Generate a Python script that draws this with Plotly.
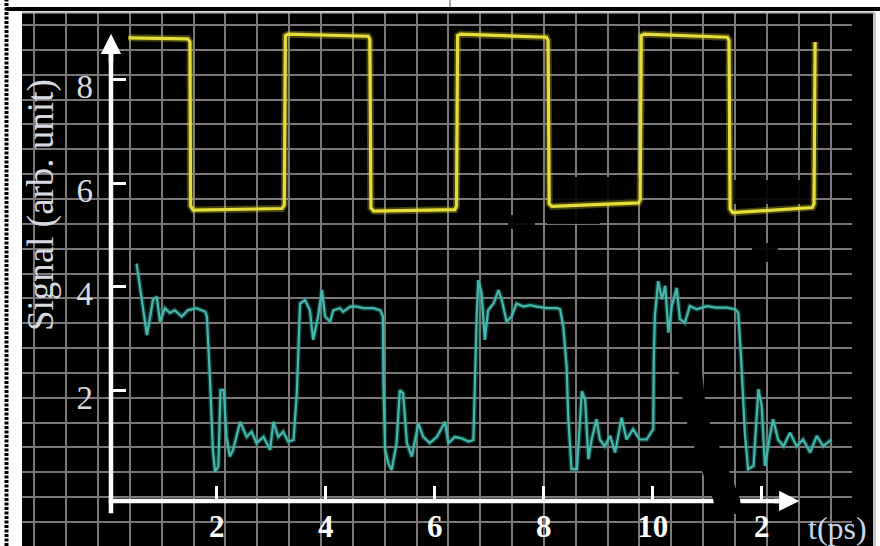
import plotly.graph_objects as go

# ---------------- data ----------------
yellow_t = [0.38, 1.47, 1.51, 1.52, 1.57, 3.20, 3.24, 3.26, 3.31, 4.78, 4.81, 4.83, 4.88,
            6.37, 6.40, 6.42, 6.47, 8.05, 8.08, 8.10, 8.15, 9.74, 9.77, 9.79, 9.84,
            11.37, 11.40, 11.42, 11.47, 12.93, 12.96, 12.98]
yellow_v = [8.80, 8.78, 8.72, 5.56, 5.48, 5.51, 5.58, 8.84, 8.87, 8.83, 8.77, 5.52, 5.46,
            5.49, 5.56, 8.84, 8.87, 8.81, 8.75, 5.60, 5.55, 5.62, 5.68, 8.84, 8.87,
            8.81, 8.75, 5.50, 5.43, 5.53, 5.60, 8.72]

cyan_t = [0.53, 0.56, 0.62, 0.72, 0.78, 0.83, 0.90, 0.96, 1.05, 1.14, 1.23, 1.36, 1.47, 1.63,
          1.79, 1.82, 1.88, 1.93, 1.97, 2.03, 2.07, 2.13, 2.18, 2.24, 2.30, 2.43, 2.55, 2.64,
          2.73, 2.86, 2.98, 3.04, 3.13, 3.22, 3.31, 3.41, 3.47, 3.50, 3.53, 3.62, 3.71, 3.77,
          3.86, 3.93, 3.99, 4.08, 4.14, 4.26, 4.32, 4.45, 4.57, 4.69, 4.87, 5.00, 5.05, 5.06,
          5.09, 5.15, 5.21, 5.30, 5.36, 5.42, 5.49, 5.58, 5.70, 5.79, 5.91, 6.04, 6.19, 6.25,
          6.37, 6.50, 6.62, 6.71, 6.74, 6.77, 6.80, 6.86, 6.92, 6.98, 7.08, 7.17, 7.23, 7.32,
          7.41, 7.50, 7.63, 7.75, 7.87, 8.06, 8.24, 8.30, 8.36, 8.42, 8.45, 8.51, 8.61, 8.70,
          8.76, 8.82, 8.88, 8.97, 9.03, 9.12, 9.22, 9.31, 9.43, 9.52, 9.64, 9.76, 9.89, 10.01,
          10.02, 10.04, 10.10, 10.17, 10.23, 10.29, 10.35, 10.44, 10.50, 10.59, 10.68, 10.81,
          10.99, 11.17, 11.36, 11.51, 11.57, 11.63, 11.69, 11.75, 11.85, 11.94, 12.00, 12.06,
          12.15, 12.21, 12.30, 12.40, 12.52, 12.64, 12.76, 12.89, 13.01, 13.13, 13.28]
cyan_v = [4.45, 4.23, 3.88, 3.07, 3.43, 3.75, 3.81, 3.33, 3.59, 3.50, 3.55, 3.43, 3.55, 3.59,
          3.52, 3.43, 2.15, 0.86, 0.44, 0.54, 2.01, 2.01, 1.11, 0.73, 0.86, 1.40, 1.11, 1.21,
          0.99, 1.11, 0.86, 1.40, 1.11, 1.21, 1.02, 1.05, 1.95, 2.78, 3.68, 3.75, 3.55, 2.98,
          3.43, 3.94, 3.43, 3.33, 3.55, 3.59, 3.52, 3.62, 3.62, 3.59, 3.59, 3.55, 3.43, 2.14,
          0.86, 0.60, 0.47, 0.99, 2.01, 1.95, 0.99, 0.73, 1.37, 1.11, 0.99, 1.11, 1.40, 0.99,
          1.11, 1.08, 1.02, 1.05, 2.34, 3.43, 4.13, 3.88, 2.98, 3.55, 3.68, 3.94, 3.75, 3.33,
          3.43, 3.68, 3.62, 3.65, 3.62, 3.59, 3.59, 3.57, 3.23, 2.48, 1.51, 0.49, 0.49, 1.99,
          1.83, 0.68, 1.06, 1.45, 1.06, 0.93, 1.13, 0.81, 1.48, 1.06, 1.26, 1.06, 1.06, 1.26,
          2.60, 3.44, 4.11, 3.76, 4.02, 3.12, 3.63, 3.98, 3.38, 3.31, 3.63, 3.57,
          3.63, 3.60, 3.60, 3.57, 3.50, 2.48, 1.19, 0.49, 0.55, 2.03, 1.71, 0.55,
          1.13, 1.45, 1.06, 0.93, 1.19, 0.93, 1.06, 0.81, 1.13, 0.93, 1.06]

x_tick_vals = [2, 4, 6, 8, 10, 12]
x_tick_text = ["2", "4", "6", "8", "10", "2"]
y_tick_vals = [2, 4, 6, 8]
y_tick_text = ["2", "4", "6", "8"]

x_range = [-1.5725, 13.657]
y_range = [-0.9923, 9.2967]
grid_x0, grid_dx = 0.991, 0.5844
grid_y0, grid_dy = -0.051, 0.4788

axis_x0 = 0.06       # data x of the vertical axis line
axis_y0 = -0.125     # data y of the horizontal axis line

# ---------------- layout helpers (pixel -> paper / data, decoration only) ----------------
W, H = 880, 546
ML, MR, MT, MB = 22, 28, 12, 0
PW, PH = W - ML - MR, H - MT - MB


def px(x):
    return (x - ML) / PW


def py(y):
    return (H - MB - y) / PH


def dx(x):
    return x_range[0] + (x - ML) / PW * (x_range[1] - x_range[0])


def dy(y):
    return y_range[1] - (y - MT) / PH * (y_range[1] - y_range[0])


fig = go.Figure()

# glow + core for each trace
fig.add_trace(go.Scatter(x=yellow_t, y=yellow_v, mode="lines",
                         line=dict(color="rgba(200,190,40,0.35)", width=7), hoverinfo="skip"))
fig.add_trace(go.Scatter(x=yellow_t, y=yellow_v, mode="lines",
                         line=dict(color="#e6dd3a", width=3.2)))
fig.add_trace(go.Scatter(x=cyan_t, y=cyan_v, mode="lines",
                         line=dict(color="rgba(30,130,120,0.45)", width=5), hoverinfo="skip"))
fig.add_trace(go.Scatter(x=cyan_t, y=cyan_v, mode="lines",
                         line=dict(color="#46b8ad", width=2.2)))
# invisible trace so that the labelled overlay axes are drawn
fig.add_trace(go.Scatter(x=[x_range[0]], y=[y_range[0]], xaxis="x2", yaxis="y2",
                         mode="markers", marker=dict(opacity=0, size=1), hoverinfo="skip"))

grid_color = "#7c787a"
fig.update_layout(
    width=W, height=H,
    margin=dict(l=ML, r=MR, t=MT, b=MB),
    paper_bgcolor="white",
    plot_bgcolor="black",
    showlegend=False,
    xaxis=dict(range=x_range, tickmode="linear", tick0=grid_x0, dtick=grid_dx,
               showgrid=True, gridcolor=grid_color, gridwidth=2,
               showticklabels=False, ticks="", zeroline=False, showline=False),
    yaxis=dict(range=y_range, tickmode="linear", tick0=grid_y0, dtick=grid_dy,
               showgrid=True, gridcolor=grid_color, gridwidth=2,
               showticklabels=False, ticks="", zeroline=False, showline=False),
    xaxis2=dict(overlaying="x", anchor="free", position=py(501), range=x_range,
                tickmode="array", tickvals=x_tick_vals, ticktext=x_tick_text,
                ticks="inside", ticklen=15, tickwidth=3, tickcolor="white",
                showgrid=False, zeroline=False, showline=False,
                ticklabelstandoff=4,
                tickfont=dict(family="Liberation Serif", size=31, color="white", weight="bold")),
    yaxis2=dict(overlaying="y", anchor="free", position=px(111), side="left", range=y_range,
                tickmode="array", tickvals=y_tick_vals, ticktext=y_tick_text,
                ticks="inside", ticklen=14, tickwidth=3, tickcolor="white",
                showgrid=False, zeroline=False, showline=False,
                ticklabelstandoff=18, ticklabelshift=7,
                tickfont=dict(family="Liberation Serif", size=33, color="#d8dbe0")),
)

shapes = []
# dark smudges of the scan (above grid, below traces)
for (x0, y0, x1, y1) in [(550, 177, 640, 204), (547, 205, 600, 224), (508, 215, 535, 229),
                         (730, 180, 812, 204), (752, 243, 778, 262)]:
    shapes.append(dict(type="rect", xref="x", yref="y", layer="between",
                       x0=dx(x0), x1=dx(x1), y0=dy(y1), y1=dy(y0), opacity=0.9,
                       fillcolor="black", line=dict(width=0)))
# axis lines
shapes.append(dict(type="line", xref="x", yref="y", layer="between",
                   x0=axis_x0, x1=axis_x0, y0=-0.36, y1=8.55,
                   line=dict(color="white", width=4.5)))
shapes.append(dict(type="line", xref="x", yref="y", layer="between",
                   x0=axis_x0 - 0.04, x1=12.45, y0=axis_y0, y1=axis_y0,
                   line=dict(color="white", width=4.5)))
# black diagonal stroke of the scan
pts = [(677, 360), (700, 356), (707, 416), (727, 466), (740, 499), (742, 514),
       (716, 514), (713, 499), (700, 466), (685, 416)]
path = "M " + " L ".join(f"{dx(a):.4f},{dy(b):.4f}" for a, b in pts) + " Z"
shapes.append(dict(type="path", xref="x", yref="y", layer="between", path=path,
                   fillcolor="black", line=dict(width=0)))
# black strip right of the grid
shapes.append(dict(type="rect", xref="paper", yref="paper", layer="above",
                   x0=1.0, x1=px(873), y0=0, y1=1, fillcolor="black", line=dict(width=0)))
# light right edge of the image
shapes.append(dict(type="line", xref="paper", yref="paper", layer="above",
                   x0=px(874.5), x1=px(874.5), y0=py(546), y1=py(12),
                   line=dict(color="#c4c4c4", width=3)))
# light top edge of the image
shapes.append(dict(type="line", xref="paper", yref="paper", layer="above",
                   x0=px(22), x1=px(874), y0=py(12.5), y1=py(12.5),
                   line=dict(color="#b8b8b8", width=2)))
# black top bar
shapes.append(dict(type="line", xref="paper", yref="paper", layer="above",
                   x0=px(6), x1=px(880), y0=py(9), y1=py(9),
                   line=dict(color="black", width=4)))
# small mark at top
shapes.append(dict(type="line", xref="paper", yref="paper", layer="above",
                   x0=px(450), x1=px(450), y0=py(0), y1=py(7),
                   line=dict(color="#555555", width=1)))
# dashed left border
shapes.append(dict(type="line", xref="paper", yref="paper", layer="above",
                   x0=px(6.5), x1=px(6.5), y0=py(546), y1=py(0),
                   line=dict(color="black", width=4, dash="3px,1.5px")))
fig.update_layout(shapes=shapes)

annotations = [
    # arrow heads of the axes
    dict(x=axis_x0, y=8.88, ax=axis_x0, ay=8.3, xref="x", yref="y", axref="x", ayref="y",
         text="", showarrow=True, arrowhead=2, arrowsize=0.9, arrowwidth=4.5, arrowcolor="white"),
    dict(x=12.69, y=axis_y0, ax=12.2, ay=axis_y0, xref="x", yref="y", axref="x", ayref="y",
         text="", showarrow=True, arrowhead=2, arrowsize=0.9, arrowwidth=4.5, arrowcolor="white"),
    # axis titles
    dict(x=px(41), y=py(205), xref="paper", yref="paper", text="Signal (arb. unit)",
         textangle=-90, showarrow=False, xanchor="center", yanchor="middle",
         font=dict(family="Liberation Serif", size=37, color="#d6d9e0")),
    dict(x=px(806), y=py(528), xref="paper", yref="paper", text="t(ps)",
         showarrow=False, xanchor="left", yanchor="middle",
         font=dict(family="Liberation Serif", size=32, color="#c8d6ee")),
]
fig.update_layout(annotations=annotations)

fig.write_html("out.html")
